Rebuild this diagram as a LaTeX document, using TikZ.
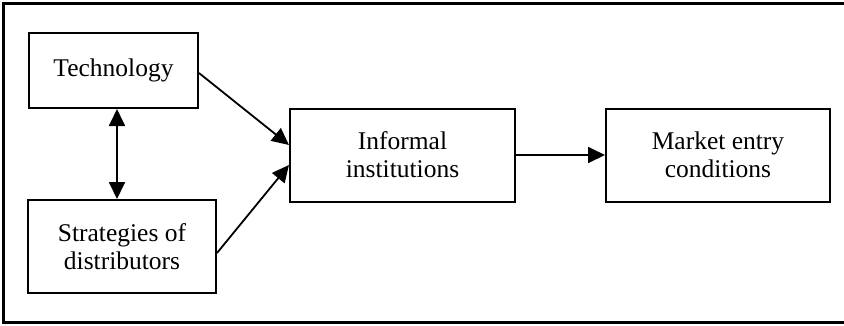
\documentclass[tikz,border=0pt]{standalone}
\usepackage{fontspec}
\setmainfont{Liberation Serif}
\usetikzlibrary{arrows.meta}

\begin{document}
\begin{tikzpicture}[x=1pt, y=-1pt,
    box/.style={draw, line width=2pt, align=center, inner sep=0pt,
        font=\fontsize{25.5}{28}\selectfont},
    link/.style={line width=1.8pt, -{Triangle[length=17pt, width=16pt]}}]
    \useasboundingbox (0,0) rectangle (844,325);
    \draw[line width=3pt] (850,3) -- (3,3) -- (3,322) -- (850,322);
    \node[box, minimum width=169pt, minimum height=75pt] (tech) at (113.5,70.5) {Technology};
    \node[box, minimum width=188pt, minimum height=93pt] (strat) at (122,246.5) {Strategies of\\distributors};
    \node[box, minimum width=225pt, minimum height=93pt] (inf) at (402.5,155) {Informal\\institutions};
    \node[box, minimum width=224pt, minimum height=93pt] (mkt) at (718,155) {Market entry\\conditions};
    \draw[link, {Triangle[length=17pt, width=16pt]}-{Triangle[length=17pt, width=16pt]}]
        ([xshift=3.5pt]tech.south) -- ([xshift=3.5pt]tech.south |- strat.north);
    \draw[link] ([yshift=-2.5pt]tech.east) -- ([yshift=10pt]inf.west);
    \draw[link] ([yshift=-6.5pt]strat.east) -- ([yshift=-10pt]inf.west);
    \draw[link] (inf.east) -- (mkt.west);
\end{tikzpicture}
\end{document}
